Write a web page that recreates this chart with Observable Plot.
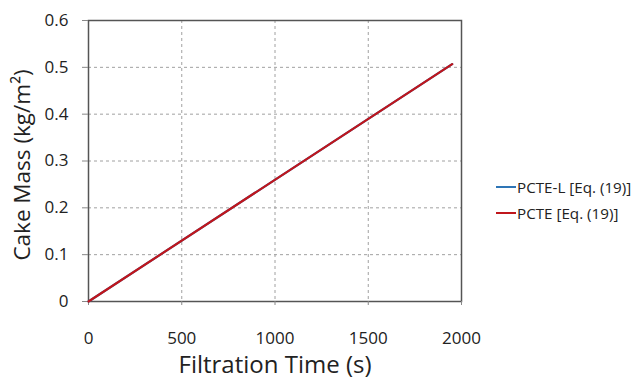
<!DOCTYPE html>
<html>
<head>
<meta charset="utf-8">
<script src="https://cdn.jsdelivr.net/npm/d3@7"></script>
<script src="https://cdn.jsdelivr.net/npm/@observablehq/plot@0.6"></script>
<style>
  html, body { margin: 0; padding: 0; background: #fff; }
  #wrap { position: relative; width: 637px; height: 380px; font-family: "Open Sans", sans-serif; }
  #legend { position: absolute; left: 496px; top: 174px; font-size: 15.2px; color: #222; line-height: 26px; }
  #legend .item { display: flex; align-items: center; white-space: nowrap; }
  #legend .sw { display: inline-block; width: 20px; height: 2.5px; margin-right: 1px; }
</style>
</head>
<body>
<div id="wrap"><div id="legend"></div></div>
<script>
const seriesNames = ["PCTE-L [Eq. (19)]", "PCTE [Eq. (19)]"];
const seriesColors = ["#2e75b6", "#c0161c"];
const timeValues = [0, 1950];
const massPCTEL = [0, 0.507];
const massPCTE = [0, 0.507];
const xTicks = [0, 500, 1000, 1500, 2000];
const yTicks = [0, 0.1, 0.2, 0.3, 0.4, 0.5, 0.6];
const xTitle = "Filtration Time (s)";
const yTitle = "Cake Mass (kg/m²)";

const rows = [];
timeValues.forEach((t, i) => rows.push({series: seriesNames[0], t, m: massPCTEL[i]}));
timeValues.forEach((t, i) => rows.push({series: seriesNames[1], t, m: massPCTE[i]}));

const chart = Plot.plot({
  width: 637,
  height: 380,
  marginLeft: 88,
  marginRight: 176,
  marginTop: 20,
  marginBottom: 79,
  style: {fontFamily: "'Open Sans', sans-serif", color: "#222", background: "#fff"},
  x: {domain: [0, 2000]},
  y: {domain: [0, 0.6]},
  color: {domain: seriesNames, range: seriesColors},
  marks: [
    Plot.gridX(xTicks, {stroke: "#a0a0a0", strokeOpacity: 1, strokeDasharray: "3,3", strokeWidth: 1}),
    Plot.gridY(yTicks, {stroke: "#a0a0a0", strokeOpacity: 1, strokeDasharray: "3,3", strokeWidth: 1}),
    Plot.frame({stroke: "#555", strokeWidth: 1.5}),
    Plot.axisX({ticks: xTicks, tickSize: 4, tickPadding: 26, fontSize: 17, label: null, stroke: "#888",
      tickFormat: d => String(d)}),
    Plot.axisY({ticks: yTicks, tickSize: 6, tickPadding: 14, fontSize: 17, label: null, stroke: "#888",
      tickFormat: d => d === 0 ? "0" : d.toFixed(1)}),
    Plot.line(rows, {x: "t", y: "m", z: "series", stroke: "series", strokeWidth: 2.2}),
    Plot.text([xTitle], {frameAnchor: "bottom", dy: 64, fontSize: 24, fill: "#222", lineAnchor: "middle", textAnchor: "middle"}),
    Plot.text([yTitle], {frameAnchor: "left", dx: -66, dy: 4, rotate: -90, fontSize: 22.5, fill: "#222", lineAnchor: "middle", textAnchor: "middle"})
  ]
});
document.getElementById("wrap").prepend(chart);

const legend = document.getElementById("legend");
seriesNames.forEach((n, i) => {
  const it = document.createElement("div");
  it.className = "item";
  const sw = document.createElement("span");
  sw.className = "sw";
  sw.style.background = seriesColors[i];
  it.appendChild(sw);
  it.appendChild(document.createTextNode(n));
  legend.appendChild(it);
});
</script>
</body>
</html>
